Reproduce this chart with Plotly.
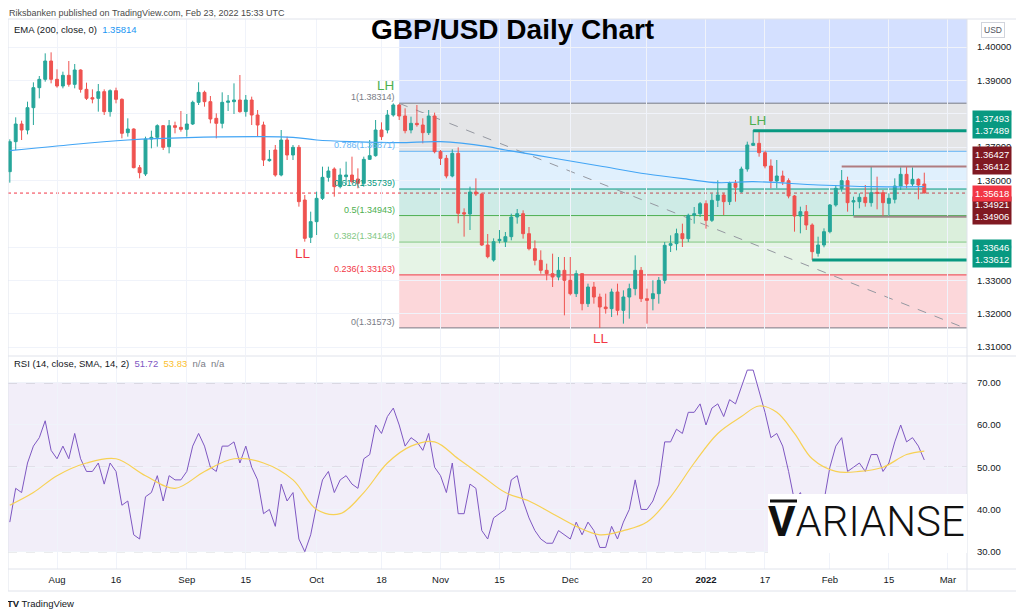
import pandas as pd
import plotly.graph_objects as go
from plotly.subplots import make_subplots

# GBP/USD daily candles, trading days from 21 Jul 2021 to 23 Feb 2022
opens = [1.3626, 1.3716, 1.3769, 1.3751, 1.3818, 1.3878, 1.3903, 1.3958,
         1.3903, 1.3883, 1.3915, 1.3888, 1.3931, 1.3873, 1.3848, 1.3846, 1.3866, 1.3806,
         1.3869, 1.3843, 1.3743, 1.3754, 1.3638, 1.3619, 1.3724, 1.3729, 1.3764, 1.3701,
         1.3764, 1.3759, 1.3753, 1.3769, 1.3834, 1.3864, 1.3836, 1.3786, 1.3771, 1.3834,
         1.3836, 1.3841, 1.3806, 1.3841, 1.3796, 1.3766, 1.3659, 1.3691, 1.3616, 1.3721,
         1.3676, 1.3699, 1.3541, 1.3429, 1.3476, 1.3546, 1.3609, 1.3634, 1.3581, 1.3611,
         1.3616, 1.3604, 1.3591, 1.3663, 1.3674, 1.3751, 1.3751, 1.3796, 1.3826, 1.3793,
         1.3751, 1.3771, 1.3766, 1.3743, 1.3793, 1.3686, 1.3666, 1.3613, 1.3681, 1.3503,
         1.3499, 1.3565, 1.3559, 1.3406, 1.3361, 1.3419, 1.3416, 1.3431, 1.3490, 1.3500,
         1.3440, 1.3395, 1.3360, 1.3330, 1.3320, 1.3310, 1.3330, 1.3300, 1.3260, 1.3320,
         1.3230, 1.3280, 1.3250, 1.3220, 1.3215, 1.3265, 1.3210, 1.3250, 1.3275, 1.3330,
         1.3245, 1.3245, 1.3260, 1.3300, 1.3405, 1.3410, 1.3440, 1.3425, 1.3495, 1.3500,
         1.3530, 1.3480, 1.3540, 1.3556, 1.3536, 1.3591, 1.3566, 1.3634, 1.3705, 1.3711,
         1.3683, 1.3643, 1.3598, 1.3613, 1.3599, 1.3553, 1.3493, 1.3506, 1.3466, 1.3381,
         1.3406, 1.3446, 1.3526, 1.3576, 1.3599, 1.3535, 1.3536, 1.3549, 1.3533, 1.3564,
         1.3563, 1.3531, 1.3543, 1.3583, 1.3618, 1.3589, 1.3603, 1.3589]
highs = [1.3723, 1.3789, 1.3779, 1.3836, 1.3894, 1.3913, 1.3981, 1.3984,
         1.3933, 1.3926, 1.3958, 1.3949, 1.3933, 1.3893, 1.3873, 1.3889, 1.3873, 1.3873,
         1.3878, 1.3846, 1.3786, 1.3756, 1.3646, 1.3731, 1.3749, 1.3768, 1.3766, 1.3781,
         1.3776, 1.3808, 1.3799, 1.3839, 1.3894, 1.3869, 1.3853, 1.3801, 1.3864, 1.3856,
         1.3891, 1.3916, 1.3856, 1.3851, 1.3811, 1.3776, 1.3691, 1.3706, 1.3751, 1.3731,
         1.3706, 1.3706, 1.3556, 1.3506, 1.3566, 1.3641, 1.3641, 1.3639, 1.3636, 1.3656,
         1.3671, 1.3636, 1.3671, 1.3721, 1.3781, 1.3774, 1.3811, 1.3831, 1.3829, 1.3816,
         1.3791, 1.3826, 1.3786, 1.3811, 1.3803, 1.3691, 1.3676, 1.3693, 1.3699, 1.3516,
         1.3581, 1.3606, 1.3563, 1.3439, 1.3426, 1.3451, 1.3445, 1.3500, 1.3514, 1.3510,
         1.3460, 1.3420, 1.3390, 1.3350, 1.3380, 1.3370, 1.3370, 1.3370, 1.3330, 1.3320,
         1.3290, 1.3295, 1.3260, 1.3260, 1.3275, 1.3290, 1.3270, 1.3290, 1.3375, 1.3340,
         1.3275, 1.3300, 1.3310, 1.3415, 1.3435, 1.3455, 1.3470, 1.3500, 1.3520, 1.3535,
         1.3540, 1.3560, 1.3600, 1.3561, 1.3596, 1.3601, 1.3641, 1.3716, 1.3751, 1.3749,
         1.3689, 1.3663, 1.3661, 1.3629, 1.3606, 1.3556, 1.3521, 1.3526, 1.3471, 1.3431,
         1.3456, 1.3529, 1.3586, 1.3631, 1.3611, 1.3551, 1.3561, 1.3586, 1.3643, 1.3611,
         1.3571, 1.3561, 1.3606, 1.3639, 1.3643, 1.3639, 1.3606, 1.3623]
lows = [1.3593, 1.3691, 1.3721, 1.3738, 1.3766, 1.3846, 1.3896, 1.3891,
        1.3878, 1.3876, 1.3881, 1.3876, 1.3863, 1.3841, 1.3831, 1.3806, 1.3796, 1.3791,
        1.3831, 1.3726, 1.3731, 1.3636, 1.3606, 1.3613, 1.3696, 1.3701, 1.3691, 1.3681,
        1.3741, 1.3746, 1.3731, 1.3766, 1.3826, 1.3821, 1.3771, 1.3726, 1.3756, 1.3808,
        1.3799, 1.3803, 1.3791, 1.3766, 1.3731, 1.3643, 1.3656, 1.3611, 1.3612, 1.3661,
        1.3661, 1.3521, 1.3416, 1.3412, 1.3436, 1.3541, 1.3596, 1.3551, 1.3576, 1.3586,
        1.3591, 1.3576, 1.3581, 1.3661, 1.3671, 1.3721, 1.3741, 1.3791, 1.3781, 1.3741,
        1.3741, 1.3761, 1.3711, 1.3736, 1.3681, 1.3646, 1.3606, 1.3609, 1.3471, 1.3431,
        1.3451, 1.3553, 1.3403, 1.3366, 1.3356, 1.3411, 1.3400, 1.3420, 1.3470, 1.3425,
        1.3390, 1.3345, 1.3320, 1.3300, 1.3280, 1.3300, 1.3195, 1.3255, 1.3250, 1.3210,
        1.3220, 1.3230, 1.3157, 1.3200, 1.3190, 1.3195, 1.3170, 1.3185, 1.3255, 1.3235,
        1.3170, 1.3210, 1.3230, 1.3290, 1.3385, 1.3390, 1.3400, 1.3415, 1.3470, 1.3490,
        1.3455, 1.3475, 1.3520, 1.3496, 1.3526, 1.3536, 1.3563, 1.3626, 1.3703, 1.3671,
        1.3636, 1.3576, 1.3576, 1.3586, 1.3546, 1.3446, 1.3441, 1.3451, 1.3361, 1.3371,
        1.3399, 1.3441, 1.3521, 1.3566, 1.3506, 1.3493, 1.3516, 1.3521, 1.3521, 1.3513,
        1.3493, 1.3493, 1.3531, 1.3571, 1.3576, 1.3583, 1.3543, 1.3561]
closes = [1.3716, 1.3769, 1.3751, 1.3818, 1.3878, 1.3903, 1.3958, 1.3903,
          1.3883, 1.3915, 1.3888, 1.3931, 1.3873, 1.3846, 1.3844, 1.3866, 1.3806, 1.3869,
          1.3843, 1.3741, 1.3754, 1.3638, 1.3623, 1.3724, 1.3729, 1.3764, 1.3699, 1.3764,
          1.3759, 1.3753, 1.3769, 1.3834, 1.3864, 1.3836, 1.3784, 1.3771, 1.3834, 1.3838,
          1.3841, 1.3806, 1.3841, 1.3796, 1.3766, 1.3661, 1.3663, 1.3616, 1.3721, 1.3676,
          1.3699, 1.3536, 1.3426, 1.3476, 1.3546, 1.3609, 1.3628, 1.3581, 1.3616, 1.3616,
          1.3596, 1.3591, 1.3663, 1.3674, 1.3751, 1.3731, 1.3796, 1.3826, 1.3793, 1.3749,
          1.3771, 1.3767, 1.3743, 1.3793, 1.3686, 1.3666, 1.3613, 1.3681, 1.3501, 1.3499,
          1.3565, 1.3559, 1.3406, 1.3371, 1.3416, 1.3423, 1.3431, 1.3490, 1.3500, 1.3440,
          1.3395, 1.3360, 1.3330, 1.3320, 1.3310, 1.3330, 1.3300, 1.3260, 1.3320, 1.3230,
          1.3280, 1.3250, 1.3220, 1.3215, 1.3265, 1.3210, 1.3250, 1.3275, 1.3330, 1.3245,
          1.3240, 1.3260, 1.3300, 1.3405, 1.3410, 1.3440, 1.3425, 1.3495, 1.3500, 1.3530,
          1.3480, 1.3540, 1.3556, 1.3536, 1.3591, 1.3579, 1.3634, 1.3706, 1.3711, 1.3683,
          1.3643, 1.3598, 1.3613, 1.3596, 1.3553, 1.3493, 1.3506, 1.3466, 1.3386, 1.3406,
          1.3446, 1.3526, 1.3576, 1.3599, 1.3533, 1.3539, 1.3549, 1.3533, 1.3563, 1.3561,
          1.3533, 1.3546, 1.3583, 1.3618, 1.3589, 1.3603, 1.3586, 1.3562]
dates = pd.bdate_range("2021-07-21", periods=len(closes))

# EMA 200 read at a few dates
ema_dates = ["2021-07-21", "2021-08-02", "2021-08-18", "2021-09-17", "2021-09-27", "2021-10-01",
             "2021-10-11", "2021-10-21", "2021-11-01", "2021-11-11", "2021-11-16", "2021-11-26",
             "2021-12-08", "2021-12-20", "2021-12-29", "2022-01-05", "2022-01-13", "2022-01-28",
             "2022-02-10", "2022-02-23"]
ema_vals = [1.3689, 1.3703, 1.3721, 1.3731, 1.3729, 1.3721, 1.3716, 1.3713, 1.3716, 1.3701,
            1.3691, 1.3667, 1.3643, 1.3619, 1.3603, 1.3593, 1.3596, 1.3586, 1.3581, 1.3581]

# RSI(14) per bar and its SMA
rsi = [37, 45, 44, 51, 55, 57, 61, 54,
       52, 55, 52, 58, 52, 49, 49, 51, 46, 51,
       49, 41, 42, 34, 33, 43, 44, 48, 42, 48,
       47, 47, 49, 55, 58, 55, 50, 49, 55, 55,
       56, 51, 55, 50, 47, 39, 40, 36, 46, 42,
       44, 33, 30, 34, 41, 47, 49, 44, 47, 48,
       46, 45, 52, 53, 60, 58, 62, 64, 60, 55,
       57, 56, 54, 58, 50, 48, 44, 51, 39, 39,
       46, 45, 35, 33, 38, 39, 40, 47, 48, 42,
       38, 35, 33, 32, 32, 35, 34, 33, 37, 34,
       37, 35, 31, 31, 36, 33, 37, 40, 47, 40,
       40, 42, 46, 56, 56, 59, 58, 63, 63, 65,
       60, 64, 65, 62, 66, 65, 69, 73, 73, 68,
       63, 57, 58, 55, 49, 42, 44, 40, 34, 37,
       42, 50, 55, 57, 49, 50, 51, 49, 53, 53,
       49, 51, 56, 60, 56, 57, 55, 51.72]
sma_dates = ["2021-07-21", "2021-07-27", "2021-08-02", "2021-08-09", "2021-08-16", "2021-08-23",
             "2021-08-30", "2021-09-06", "2021-09-13", "2021-09-20", "2021-09-27", "2021-10-01",
             "2021-10-07", "2021-10-13", "2021-10-19", "2021-10-25", "2021-10-29", "2021-11-04",
             "2021-11-10", "2021-11-16", "2021-11-22", "2021-11-26", "2021-12-02", "2021-12-08",
             "2021-12-14", "2021-12-20", "2021-12-24", "2021-12-30", "2022-01-05", "2022-01-11",
             "2022-01-14", "2022-01-19", "2022-01-24", "2022-01-27", "2022-02-02", "2022-02-08",
             "2022-02-14", "2022-02-18", "2022-02-23"]
sma_vals = [41, 44, 48, 51, 52, 48, 45, 49, 52, 51, 47, 40, 39, 44, 51, 55, 56, 52, 48, 44,
            42, 39, 36, 34, 35, 37, 43, 51, 58, 62, 64.5, 63, 58, 52, 49, 49, 50, 53, 53.83]

# Fibonacci retracement drawn from the October high
fib_start = "2021-10-21"
fib_ratios = ["1", "0.786", "0.618", "0.5", "0.382", "0.236", "0"]
fib_prices = [1.38314, 1.36871, 1.35739, 1.34943, 1.34148, 1.33163, 1.31573]
fib_colors = ["#787b86", "#64b5f6", "#089981", "#4caf50", "#81c784", "#f23645", "#787b86"]
fib_fills = ["rgba(41,98,255,0.2)", "rgba(120,123,134,0.2)", "rgba(100,181,246,0.2)",
             "rgba(8,153,129,0.2)", "rgba(76,175,80,0.2)", "rgba(129,199,132,0.2)",
             "rgba(242,54,69,0.2)"]

trend_x = ["2021-10-21", "2022-03-03"]
trend_y = [1.3831, 1.3163]

last_price = 1.35618
hlines = [  # start date, price, colour, width, axis label prices, label colour
    ("2022-01-13", 1.37489, "#089981", 3, ["1.37493", "1.37489"], "#089981"),
    ("2022-02-03", 1.36412, "#b07c80", 2, ["1.36427", "1.36412"], "#801922"),
    ("2022-02-07", 1.34906, "#a08a8c", 2, ["1.34921", "1.34906"], "#801922"),
    ("2022-01-27", 1.33612, "#089981", 3, ["1.33646", "1.33612"], "#089981"),
]
# text, date, price, colour, side, x shift, y shift
swing_labels = [("LH", "2021-10-20", 1.3831, "#4caf50", "top", -8, 8),
                ("LL", "2021-09-29", 1.3412, "#f23645", "bottom", -2, -1),
                ("LL", "2021-12-08", 1.3157, "#f23645", "bottom", 1, -1),
                ("LH", "2022-01-13", 1.3751, "#4caf50", "top", 4, 0)]

price_ticks = [1.31, 1.32, 1.33, 1.34, 1.36, 1.37, 1.38, 1.39, 1.40]
rsi_ticks = [30, 40, 50, 60, 70]
tick_dates = ["2021-08-02", "2021-08-16", "2021-09-01", "2021-09-15", "2021-10-01", "2021-10-18",
              "2021-11-01", "2021-11-15", "2021-12-01", "2021-12-20", "2022-01-03", "2022-01-17",
              "2022-02-01", "2022-02-15", "2022-03-01"]
tick_text = ["Aug", "16", "Sep", "15", "Oct", "18", "Nov", "15", "Dec", "20", "<b>2022</b>",
             "17", "Feb", "15", "Mar"]

x_range = ["2021-07-20 16:40", "2022-03-04 05:45"]
price_range = [1.3076, 1.4084]
rsi_range = [25.9, 76.1]

# the page body adds an 8px margin, so the figure is drawn 8px smaller and positions
# below are given in screen pixels
OFF = 8
W, H = 1024 - OFF, 616 - OFF
ML, MR, MT, MB = 0, 57, 11, 47
PW, PH = W - ML - MR, H - MT - MB
PLOT_LEFT, PLOT_BOTTOM = ML + OFF, H - MB + OFF


def px(x):
    return (x - PLOT_LEFT) / PW


def py(y):
    return (PLOT_BOTTOM - y) / PH


FONT = "Liberation Sans, Arial, sans-serif"
GRID = "#f0f3fa"
BORDER = "#e0e3eb"

fig = make_subplots(rows=2, cols=1, shared_xaxes=True, vertical_spacing=0.01)

fig.add_trace(go.Candlestick(
    x=dates, open=opens, high=highs, low=lows, close=closes,
    increasing=dict(line=dict(color="#26a69a", width=1), fillcolor="#26a69a"),
    decreasing=dict(line=dict(color="#ef5350", width=1), fillcolor="#ef5350"),
    showlegend=False, hoverinfo="skip"), row=1, col=1)
fig.add_trace(go.Scatter(x=ema_dates, y=ema_vals, mode="lines",
                         line=dict(color="#42a5f5", width=1.2, shape="spline"),
                         showlegend=False, hoverinfo="skip"), row=1, col=1)
fig.add_trace(go.Scatter(x=dates, y=rsi, mode="lines", line=dict(color="#7e57c2", width=1),
                         showlegend=False, hoverinfo="skip"), row=2, col=1)
fig.add_trace(go.Scatter(x=sma_dates, y=sma_vals, mode="lines",
                         line=dict(color="#f7d154", width=1.2, shape="spline"),
                         showlegend=False, hoverinfo="skip"), row=2, col=1)

shapes = []
# fib zones and lines
tops = [price_range[1]] + fib_prices[:-1]
for top, bot, fc in zip(tops, fib_prices, fib_fills):
    shapes.append(dict(type="rect", xref="x", yref="y", x0=fib_start, x1=x_range[1],
                       y0=bot, y1=top, fillcolor=fc, line=dict(width=0), layer="below"))
for p, c in zip(fib_prices, fib_colors):
    shapes.append(dict(type="line", xref="x", yref="y", x0=fib_start, x1=x_range[1],
                       y0=p, y1=p, line=dict(color=c, width=1), layer="below"))
shapes.append(dict(type="line", xref="x", yref="y", x0=trend_x[0], x1=trend_x[1],
                   y0=trend_y[0], y1=trend_y[1], line=dict(color="#9598a1", width=1, dash="dash"),
                   layer="below"))
shapes.append(dict(type="line", xref="paper", yref="y", x0=0, x1=1, y0=last_price, y1=last_price,
                   line=dict(color="#f23645", width=1, dash="dot"), layer="below"))
for start, p, c, w, _, _ in hlines:
    shapes.append(dict(type="line", xref="x", yref="y", x0=start, x1=x_range[1], y0=p, y1=p,
                       line=dict(color=c, width=w), layer="above"))

# RSI band
shapes.append(dict(type="rect", xref="paper", yref="y2", x0=0, x1=1, y0=30, y1=70,
                   fillcolor="rgba(126,87,194,0.1)", line=dict(width=0), layer="below"))
for lvl, col in [(70, "#9598a1"), (50, "rgba(120,123,134,0.45)"), (30, "#9598a1")]:
    shapes.append(dict(type="line", xref="paper", yref="y2", x0=0, x1=1, y0=lvl, y1=lvl,
                       line=dict(color=col, width=1, dash="dash"), layer="below"))

# frame
for x0, y0, x1, y1 in [(8, 19, 1017, 19), (8, 591, 1017, 591), (8, 19, 8, 591),
                       (1017, 19, 1017, 591), (967, 19, 967, 591), (8, 356, 1017, 356),
                       (8, 569, 1017, 569)]:
    shapes.append(dict(type="line", xref="paper", yref="paper", x0=px(x0), x1=px(x1),
                       y0=py(y0), y1=py(y1), line=dict(color=BORDER, width=1), layer="above"))

# logo box
shapes.append(dict(type="rect", xref="paper", yref="paper", x0=px(768), x1=px(967),
                   y0=py(553), y1=py(494), fillcolor="white", line=dict(width=0), layer="above"))
shapes.append(dict(type="line", xref="paper", yref="paper", x0=px(770), x1=px(797),
                   y0=py(501), y1=py(501), line=dict(color="#111111", width=3), layer="above"))

ann = []
ann.append(dict(x=px(8), y=py(13), xref="paper", yref="paper", xanchor="left", yanchor="middle",
                text="Riksbanken published on TradingView.com, Feb 23, 2022 15:33 UTC",
                showarrow=False, borderpad=0, font=dict(family=FONT, size=9, color="#4a4a4a")))
ann.append(dict(x=px(512), y=py(29), xref="paper", yref="paper", xanchor="center", yanchor="middle",
                text="<b>GBP/USD Daily Chart</b>", showarrow=False,
                font=dict(family="Liberation Sans, Arial", size=28, color="#000000")))
ann.append(dict(x=px(12), y=py(29), xref="paper", yref="paper", xanchor="left", yanchor="middle",
                text='EMA (200, close, 0)  <span style="color:#2196f3">1.35814</span>',
                showarrow=False, font=dict(family=FONT, size=9.5, color="#131722")))
ann.append(dict(x=px(12), y=py(364), xref="paper", yref="paper", xanchor="left", yanchor="middle",
                text='RSI (14, close, SMA, 14, 2)  <span style="color:#7e57c2">51.72</span>  '
                     '<span style="color:#fbc02d">53.83</span>  '
                     '<span style="color:#787b86">n/a  n/a</span>',
                showarrow=False, font=dict(family=FONT, size=9.5, color="#131722")))
ann.append(dict(x=px(5), y=py(603), xref="paper", yref="paper", xanchor="left", yanchor="middle",
                text="<b>TV</b> TradingView", showarrow=False,
                font=dict(family=FONT, size=9.5, color="#131722")))

# fib labels
for r, p, c in zip(fib_ratios, fib_prices, fib_colors):
    ann.append(dict(x=fib_start, y=p, xref="x", yref="y", xanchor="right", yanchor="bottom",
                    xshift=-2, yshift=-1, text=f"{r}({p:.5f})", showarrow=False,
                    font=dict(family=FONT, size=9, color=c)))

# swing labels
for t, d, p, c, side, dx, dy in swing_labels:
    ann.append(dict(x=d, y=p, xref="x", yref="y", xanchor="center",
                    yanchor="bottom" if side == "top" else "top",
                    xshift=dx, yshift=dy, text=t, showarrow=False,
                    font=dict(family=FONT, size=13.5, color=c)))

# axis price boxes
for start, p, c, w, labels, lc in hlines:
    ann.append(dict(x=px(972), y=p, xref="paper", yref="y", xanchor="left", yanchor="middle",
                    yshift=6, text="<br>".join(labels), showarrow=False, bgcolor=lc,
                    borderpad=2, align="left", font=dict(family=FONT, size=9.5, color="white")))
ann.append(dict(x=px(972), y=last_price, xref="paper", yref="y", xanchor="left", yanchor="middle",
                text=f"{last_price:.5f}", showarrow=False, bgcolor="#f23645", borderpad=2,
                font=dict(family=FONT, size=9.5, color="white")))
ann.append(dict(x=px(993), y=py(30), xref="paper", yref="paper", xanchor="center", yanchor="middle",
                text="USD", showarrow=False, bgcolor="white", bordercolor="#d1d4dc", borderwidth=1,
                borderpad=2, font=dict(family=FONT, size=8.5, color="#50535e")))

# logo text
ann.append(dict(x=px(767), y=py(521), xref="paper", yref="paper", xanchor="left", yanchor="middle",
                text="<b>V</b>ARIANSE", showarrow=False, borderpad=0,
                font=dict(family="Roboto, Liberation Sans", size=42, color="#111111", weight=300)))

fig.update_xaxes(type="date", range=x_range, rangebreaks=[dict(bounds=["sat", "mon"])],
                 tickvals=tick_dates, ticktext=tick_text, showgrid=True, gridcolor=GRID,
                 zeroline=False, showline=False, ticks="", rangeslider=dict(visible=False),
                 tickfont=dict(family=FONT, size=9.5, color="#131722"))
fig.update_xaxes(showticklabels=False, row=1, col=1)
fig.update_xaxes(ticklabelstandoff=3, row=2, col=1)

fig.update_layout(
    width=W, height=H,
    margin=dict(l=ML, r=MR, t=MT, b=MB),
    paper_bgcolor="white", plot_bgcolor="white",
    showlegend=False, hovermode=False,
    yaxis=dict(domain=[py(355), 1], range=price_range, side="right", tickvals=price_ticks,
               tickformat=".5f", showgrid=True, gridcolor=GRID, zeroline=False, ticks="",
               ticklabelstandoff=9, tickfont=dict(family=FONT, size=9.5, color="#131722")),
    yaxis2=dict(domain=[0, py(357)], range=rsi_range, side="right", tickvals=rsi_ticks,
                tickformat=".2f", showgrid=True, gridcolor=GRID, zeroline=False, ticks="",
                ticklabelstandoff=9, tickfont=dict(family=FONT, size=9.5, color="#131722")),
    shapes=shapes,
    annotations=ann,
)

fig.write_html("out.html")
